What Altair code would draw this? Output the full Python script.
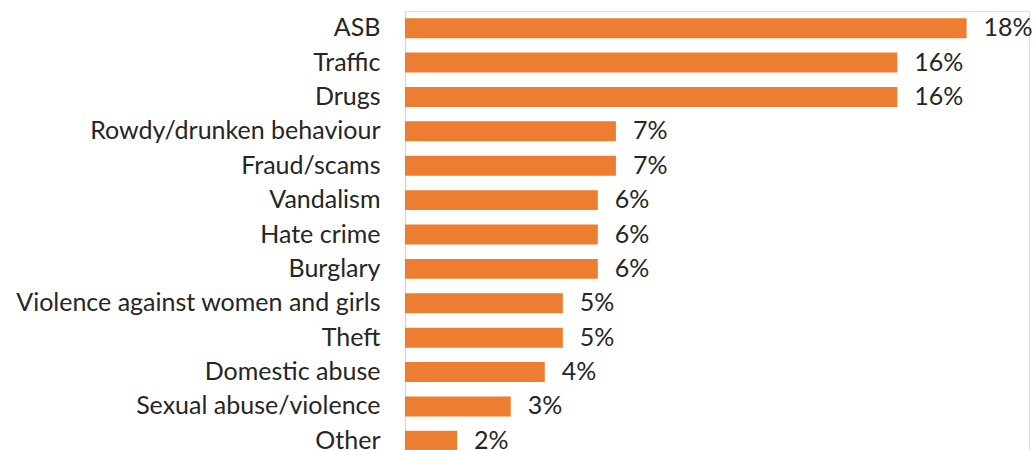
import altair as alt
import pandas as pd

categories = ["ASB", "Traffic", "Drugs", "Rowdy/drunken behaviour", "Fraud/scams",
              "Vandalism", "Hate crime", "Burglary", "Violence against women and girls",
              "Theft", "Domestic abuse", "Sexual abuse/violence", "Other"]
values = [18.0, 15.78, 15.78, 6.76, 6.76, 6.18, 6.18, 6.18, 5.06, 5.06, 4.48, 3.39, 1.67]
labels = ["18%", "16%", "16%", "7%", "7%", "6%", "6%", "6%", "5%", "5%", "4%", "3%", "2%"]

df = pd.DataFrame({"category": categories, "value": values, "label": labels})

FONT = "Lato"
FS = 25
y_enc = alt.Y("category:N", sort=categories,
              scale=alt.Scale(paddingInner=0.42, paddingOuter=0.21),
              axis=alt.Axis(title=None, ticks=False, labelPadding=25, labelFontSize=FS,
                            labelFont=FONT, labelColor="#262626", domainColor="#d9d9d9",
                            domainWidth=1.5, labelLimit=500))
x_enc = alt.X("value:Q", scale=alt.Scale(domain=[0, 20], nice=False), axis=None)

bars = alt.Chart(df).mark_bar(color="#ED7D31").encode(x=x_enc, y=y_enc)
text = alt.Chart(df).mark_text(align="left", baseline="middle", dx=17, fontSize=FS,
                               font=FONT, color="#262626").encode(
    x=x_enc, y=alt.Y("category:N", sort=categories), text="label:N")

chart = (bars + text).properties(
    width=624, height=447,
    autosize=alt.AutoSizeParams(type="none"),
    padding={"left": 405, "top": 11, "right": 5, "bottom": 0},
).configure_view(stroke=None, clip=False).configure(background="white")

chart.save("out.html", embed_options={"renderer": "svg", "actions": False})
